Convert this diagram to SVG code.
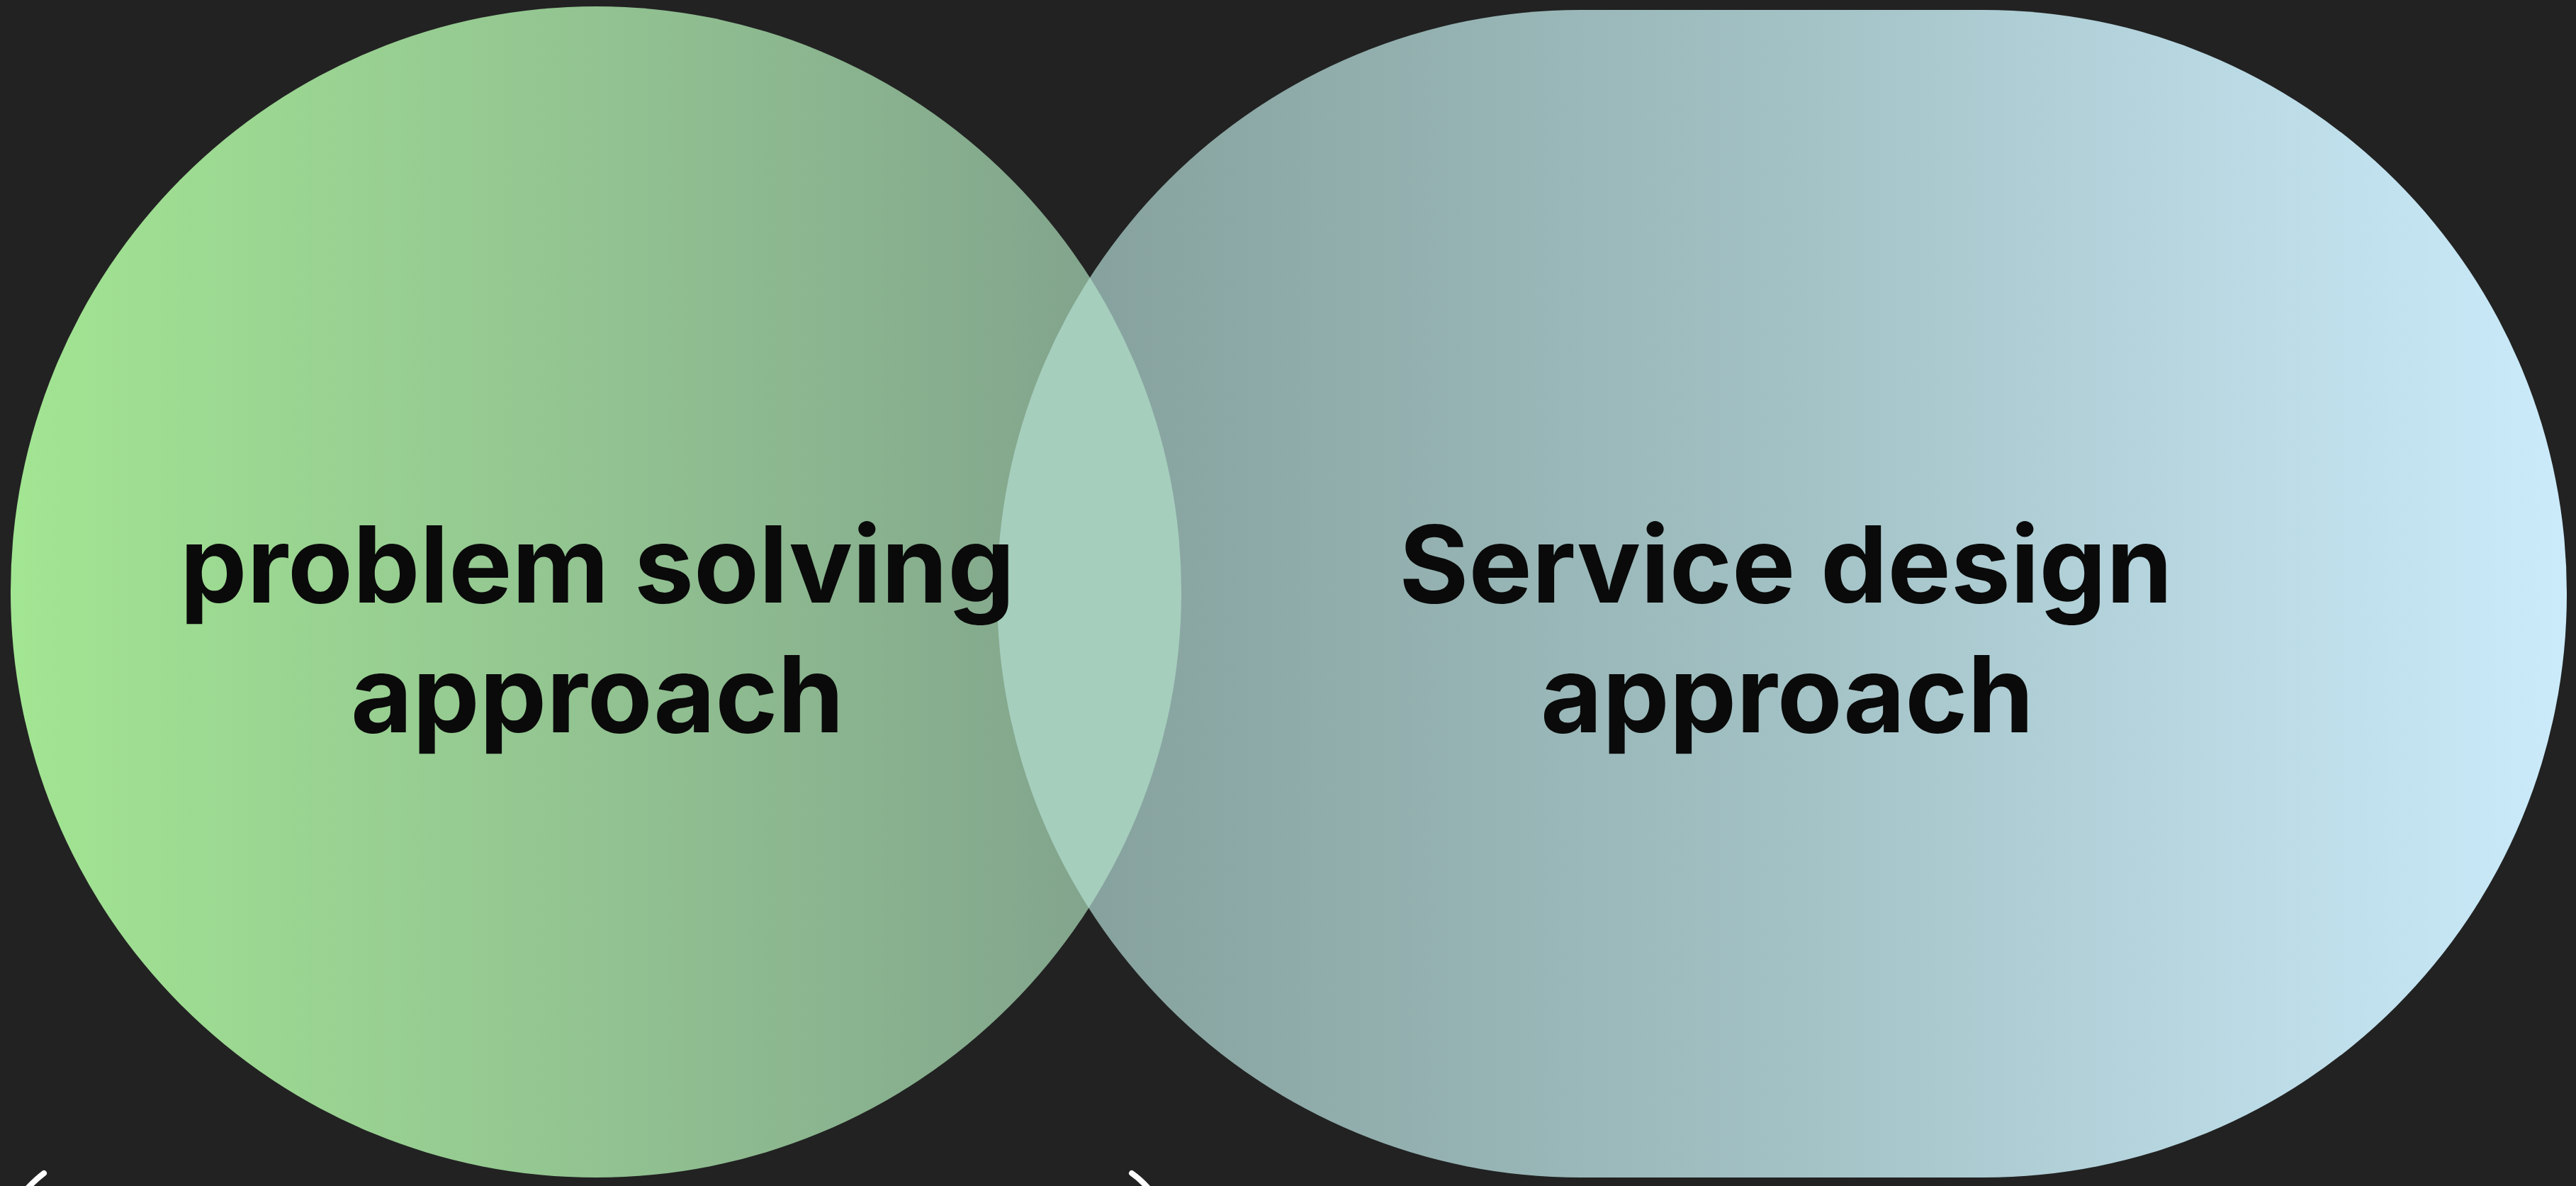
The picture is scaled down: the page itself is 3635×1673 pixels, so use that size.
<svg xmlns="http://www.w3.org/2000/svg" width="3635" height="1673" viewBox="0 0 3635 1673">
  <defs>
    <linearGradient id="gLeft" gradientUnits="userSpaceOnUse" x1="15" y1="0" x2="1667" y2="0">
      <stop offset="0" stop-color="#a2e592"/>
      <stop offset="0.5" stop-color="#92c391"/>
      <stop offset="1" stop-color="#7f9f8c"/>
    </linearGradient>
    <linearGradient id="gRight" gradientUnits="userSpaceOnUse" x1="1407" y1="0" x2="3622" y2="0">
      <stop offset="0" stop-color="#839e99"/>
      <stop offset="0.5" stop-color="#a2c1c4"/>
      <stop offset="1" stop-color="#cbebfb"/>
    </linearGradient>
    <clipPath id="clipCircle">
      <circle cx="841" cy="835" r="826"/>
    </clipPath>
  </defs>
  <style>
    .label { font-family: Inter, "Liberation Sans", Arial, sans-serif; font-weight: 700; font-size: 150px; fill: #0a0a0a; text-anchor: middle; }
    .mark { fill: none; stroke: #ffffff; stroke-width: 8; stroke-linecap: round; }
  </style>
  <rect x="0" y="0" width="3635" height="1673" fill="#222222"/>
  <g id="problem-solving">
    <circle cx="841" cy="835" r="826" fill="url(#gLeft)"/>
  </g>
  <g id="service-design">
    <rect x="1407" y="14" width="2215" height="1647" rx="823" ry="823" fill="url(#gRight)"/>
  </g>
  <g id="overlap">
    <rect x="1407" y="14" width="2215" height="1647" rx="823" ry="823" fill="#a5cebc" clip-path="url(#clipCircle)"/>
  </g>
  <g id="labels">
    <text class="label" x="843" y="850">problem solving</text>
    <text class="label" x="843" y="1033">approach</text>
    <text class="label" x="2520" y="850">Service design</text>
    <text class="label" x="2522" y="1033">approach</text>
  </g>
  <g id="connectors">
    <path class="mark" d="M62,1655 Q50,1664 37,1678"/>
    <path class="mark" d="M1597,1655 Q1610,1664 1622,1678"/>
  </g>
</svg>
